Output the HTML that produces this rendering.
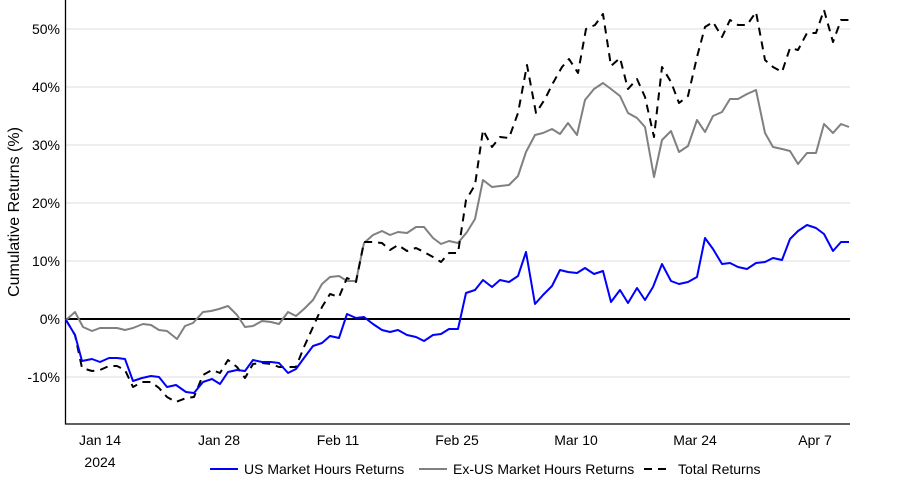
<!DOCTYPE html>
<html><head><meta charset="utf-8"><style>body{margin:0;background:#fff}svg{display:block;font-family:"Liberation Sans",sans-serif}</style></head><body>
<svg width="900" height="500" viewBox="0 0 900 500">
<g stroke="#dcdcdc" stroke-width="1">
<line x1="66" y1="29" x2="850" y2="29"/><line x1="66" y1="87" x2="850" y2="87"/><line x1="66" y1="145" x2="850" y2="145"/><line x1="66" y1="203" x2="850" y2="203"/><line x1="66" y1="261" x2="850" y2="261"/><line x1="66" y1="377" x2="850" y2="377"/>
</g>
<line x1="66" y1="319" x2="850" y2="319" stroke="#000" stroke-width="2"/>
<polyline fill="none" stroke="#000" stroke-width="1.3" points="65.5,0 65.5,424 850,424"/>
<g font-size="14" fill="#000" text-anchor="end">
<text x="60" y="34">50%</text><text x="60" y="92">40%</text><text x="60" y="150">30%</text><text x="60" y="208">20%</text><text x="60" y="266">10%</text><text x="60" y="324">0%</text><text x="60" y="382">-10%</text>
</g>
<g font-size="14" fill="#000" text-anchor="middle">
<text x="100" y="445">Jan 14</text><text x="100" y="467">2024</text><text x="219" y="445">Jan 28</text><text x="338" y="445">Feb 11</text><text x="457" y="445">Feb 25</text><text x="576" y="445">Mar 10</text><text x="695" y="445">Mar 24</text><text x="815" y="445">Apr 7</text>
</g>
<text transform="translate(19,212) rotate(-90)" font-size="16" text-anchor="middle">Cumulative Returns (%)</text>
<polyline fill="none" stroke="#808080" stroke-width="2" stroke-linejoin="round" points="66,320 75,312 83,327 92,331 100,328 117,328 125,330 133,328 143,324 151,325 159,330 167,331 177,339 185,326 193,323 203,312 211,311 219,309 228,306 237,315 245,327 253,326 262,321 271,322 279,324 288,312 296,316 304,309 313,300 322,284 330,277 339,276 347,281 356,281 364,243 373,235 382,231 390,235 398,232 407,233 416,227 424,227 433,238 441,244 449,241 458,243 467,232 475,219 483,180 492,187 500,186 509,185 518,176 526,152 535,135 543,133 552,129 560,134 568,123 577,135 585,100 594,89 603,83 611,89 620,96 628,113 637,118 645,127 654,177 662,140 671,131 679,152 688,146 697,120 705,132 713,116 722,112 730,99 738,99 747,94 756,90 765,133 773,147 782,149 790,151 798,164 807,153 816,153 824,124 833,133 841,124 849,127"/>
<polyline fill="none" stroke="#000" stroke-width="2" stroke-dasharray="8,6" stroke-linejoin="round" points="66,320 75,335 82,368 92,371 100,370 109,366 117,366 125,370 133,387 142,382 151,382 159,388 167,397 176,402 186,398 194,397 203,375 212,370 220,373 228,360 237,367 245,378 253,364 262,363 271,364 279,367 288,367 296,367 304,347 313,327 322,307 330,294 339,297 347,278 356,282 364,242 373,242 382,243 390,250 398,245 407,251 416,248 424,252 433,257 441,262 449,253 458,253 466,200 475,185 483,130 492,147 500,137 509,138 518,113 527,65 536,113 545,99 553,83 562,67 569,59 578,73 586,29 595,25 603,14 611,66 620,58 628,89 637,79 645,97 654,137 662,67 671,82 679,103 688,96 697,57 705,27 713,22 722,37 730,20 738,25 747,25 756,12 765,60 773,67 782,72 790,48 798,50 807,33 816,33 824,10 833,42 841,20 849,20"/>
<polyline fill="none" stroke="#0000ff" stroke-width="2" stroke-linejoin="round" points="66,320 75,335 82,361 92,359 100,362 109,358 117,358 125,359 133,381 142,378 151,376 159,377 167,387 176,385 186,392 194,393 203,382 212,379 220,384 228,372 237,370 245,371 253,360 262,362 271,362 279,363 288,373 296,369 304,358 313,346 322,343 330,336 339,338 347,314 356,318 364,317 373,324 382,330 390,332 398,330 407,335 416,337 424,341 433,335 441,334 449,329 458,329 466,293 475,290 483,280 492,287 500,280 509,282 518,276 526,252 535,304 543,295 552,286 560,270 568,272 577,273 585,268 594,274 603,271 611,302 620,290 628,303 637,288 645,300 653,287 662,264 671,281 679,284 688,282 697,277 705,238 713,249 722,264 730,263 738,267 747,269 756,263 765,262 773,258 782,260 790,239 798,231 807,225 816,228 824,234 833,251 841,242 849,242"/>
<g font-size="14" fill="#000">
<line x1="210" y1="469" x2="238" y2="469" stroke="#0000ff" stroke-width="2"/><text x="244" y="474">US Market Hours Returns</text>
<line x1="419" y1="469" x2="447" y2="469" stroke="#808080" stroke-width="2"/><text x="453" y="474">Ex-US Market Hours Returns</text>
<line x1="644" y1="469" x2="672" y2="469" stroke="#000" stroke-width="2" stroke-dasharray="8,6"/><text x="678" y="474">Total Returns</text>
</g>
</svg>
</body></html>
